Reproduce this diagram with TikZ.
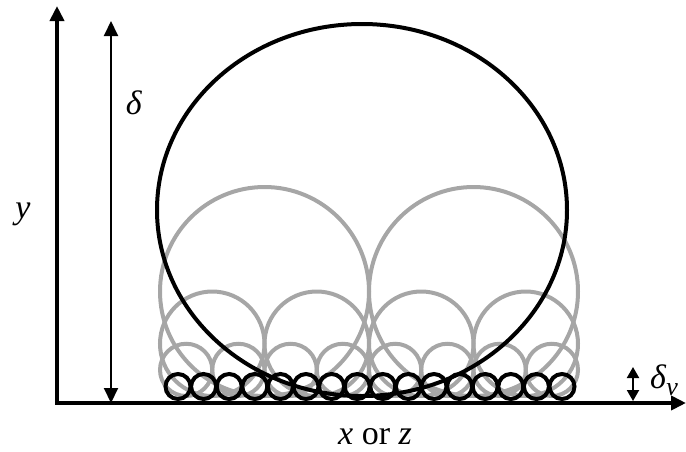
\documentclass[tikz,border=0pt]{standalone}
\usepackage{amsmath,amssymb}
\usepackage{fontspec}
\setmainfont{Liberation Serif}
\newfontfamily\labelfont{Liberation Serif}
\usepackage{xcolor}
\usepackage{tikz}
\usetikzlibrary{arrows.meta}
\definecolor{eddygray}{RGB}{166, 166, 166}

\begin{document}
\begin{tikzpicture}[x=1pt, y=-1pt,
    axis/.style={line width=4pt, -{Triangle[width=14pt,length=15pt]}},
    dimline/.style={line width=2pt, {Triangle[width=14pt,length=15pt]}-{Triangle[width=14pt,length=15pt]}},
    smalldim/.style={line width=2pt, {Triangle[width=12pt,length=11pt]}-{Triangle[width=12pt,length=11pt]}},
    bigeddy/.style={line width=4pt, draw=black},
    graycirc/.style={line width=4pt, draw=eddygray},
    smallcirc/.style={line width=4pt, draw=black},
    lbl/.style={inner sep=0pt, font=\labelfont\fontsize{34}{40}\selectfont}
]
    \useasboundingbox (0,0) rectangle (686,451);

    % gray eddies, three levels
    \foreach \n in {2,4,8} {
        \pgfmathsetmacro{\r}{418/(2*\n)}
        \foreach \i in {1,...,\n} {
            \pgfmathsetmacro{\cx}{160+\r*(2*\i-1)}
            \draw[graycirc] (\cx,{396-\r}) circle[radius=\r pt];
        }
    }

    % large eddy
    \draw[bigeddy] (362,210) ellipse[x radius=205pt, y radius=186pt];

    % smallest eddies
    \foreach \i in {0,...,15} {
        \draw[smallcirc] ({178+25.6*\i},386.5) circle[radius=12.5pt];
    }

    \coordinate (origin) at (57,403);
    \coordinate (ytop) at (57,6);
    \coordinate (xend) at (686,403);
    \coordinate (dbot) at (111,403);
    \coordinate (dtop) at (111,21);
    \coordinate (dvbot) at (633,401);
    \coordinate (dvtop) at (633,367);

    \draw[axis] (origin) -- (ytop);
    \draw[axis] ([xshift=-2pt]origin) -- (xend);
    \draw[dimline] (dbot) -- (dtop);
    \draw[smalldim] (dvbot) -- (dvtop);

    \node[lbl] (ylabel) at (23,214) {\textit{y}};
    \node[lbl] (xlabel) at (375,437) {\textit{x} or \textit{z}};
    \node[lbl] (delta) at (134,103) {\textit{δ}};
    \node[lbl] (deltav) at (664,380) {\textit{δ}\raisebox{-7pt}{\fontsize{26}{30}\selectfont\textit{v}}};
\end{tikzpicture}
\end{document}
